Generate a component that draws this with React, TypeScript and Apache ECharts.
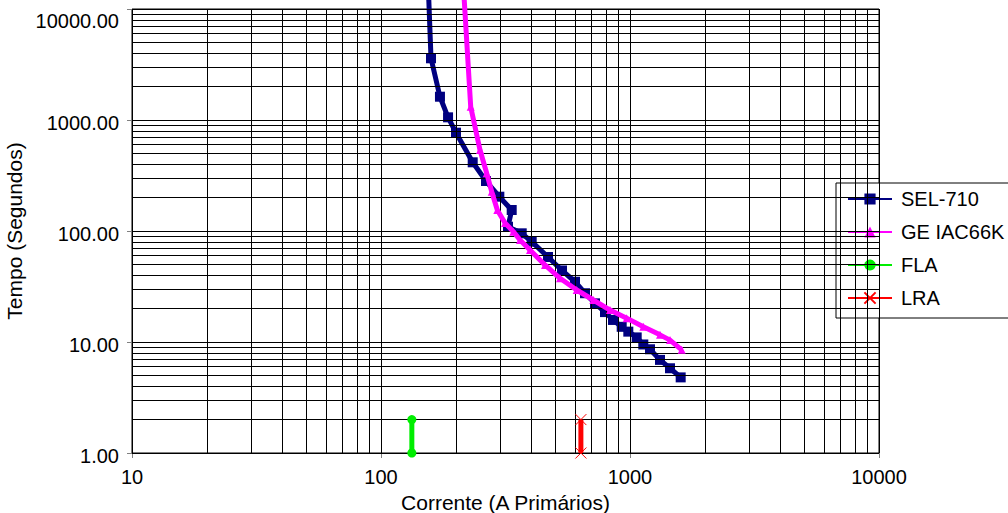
import React, { useEffect, useRef } from "react";
import * as echarts from "echarts";

const selX = [154.5, 158.8, 172.5, 185.9, 200.1, 233.5, 264.0, 298.7, 334.9, 323.6, 367.4, 402.9, 468.5, 533.3, 601.4, 659.7, 723.4, 793.5, 854.4, 926.1, 984.5, 1063.9, 1130.9, 1203.1, 1319.5, 1447.4, 1597.9];
const selY = [18250, 3596, 1621, 1057, 768.6, 415.8, 282.1, 203.7, 154.6, 109.3, 95.3, 80.1, 58.3, 44.1, 34.9, 27.5, 22.3, 18.6, 15.8, 13.7, 12.4, 11.0, 9.5, 8.6, 6.9, 5.8, 4.8];

const geX = [213.5, 229.2, 249.8, 265.8, 278.4, 293.2, 314.8, 340.0, 361.6, 396.7, 455.6, 523.6, 610.8, 712.2, 831.2, 969.9, 1130.9, 1319.5, 1447.4, 1612.7];
const geY = [18250, 1318, 536.6, 331.0, 226.0, 154.6, 118.1, 98.6, 82.9, 67.4, 49.4, 37.5, 29.4, 23.9, 19.4, 16.4, 13.7, 11.6, 10.4, 8.5];

const flaX = [133, 133];
const flaY = [1, 2];
const lraX = [635, 635];
const lraY = [1, 2];

const xGridValues: number[] = [];
for (const d of [10, 100, 1000]) for (let k = 1; k <= 9; k++) xGridValues.push(k * d);
xGridValues.push(10000);
const yGridValues: number[] = [];
for (const d of [1, 10, 100, 1000]) for (let k = 1; k <= 9; k++) yGridValues.push(k * d);
yGridValues.push(10000);

const FONT = "'Liberation Sans', Arial, sans-serif";

function zip(xs: number[], ys: number[]) {
  return xs.map((x, i) => [x, ys[i]]);
}

export default function App() {
  const ref = useRef<HTMLDivElement>(null);
  useEffect(() => {
    if (!ref.current) return;
    const chart = echarts.init(ref.current, undefined, { renderer: "svg" });
    const gridLine = { color: "#000", width: 1, type: "solid" as const };
    chart.setOption({
      animation: false,
      backgroundColor: "#fff",
      textStyle: { fontFamily: FONT },
      grid: {
        left: 132, right: 129, top: 9, bottom: 60,
        containLabel: false, outerBoundsMode: "none",
        show: true, borderColor: "#000", borderWidth: 1, backgroundColor: "transparent",
      },
      xAxis: {
        type: "log",
        logBase: 10,
        min: 10,
        max: 10000,
        name: "Corrente (A Primários)",
        nameLocation: "middle",
        nameGap: 33,
        nameTextStyle: { fontSize: 21, color: "#000", fontFamily: FONT },
        axisLine: { show: true, lineStyle: { color: "#808080", width: 1 } },
        axisTick: { show: true, length: 5, lineStyle: { color: "#808080" } },
        axisLabel: { fontSize: 20, color: "#000", margin: 14, fontFamily: FONT, formatter: (v: number) => String(Math.round(v)) },
        splitLine: { show: false },
      },
      yAxis: {
        type: "log",
        logBase: 10,
        min: 1,
        max: 10000,
        name: "Tempo (Segundos)",
        nameLocation: "middle",
        nameGap: 97,
        nameRotate: 90,
        nameTextStyle: { fontSize: 21, color: "#000", fontFamily: FONT },
        axisLine: { show: true, lineStyle: { color: "#808080", width: 1 } },
        axisTick: { show: true, length: 5, lineStyle: { color: "#808080" } },
        axisLabel: {
          fontSize: 20,
          color: "#000",
          margin: 13,
          fontFamily: FONT,
          formatter: (v: number) => (v >= 9999 ? "{t|" + v.toFixed(2) + "}" : "{n|" + v.toFixed(2) + "}"),
          rich: {
            t: { fontSize: 20, fontFamily: FONT, color: "#000", padding: [23, 0, 0, 0] },
            n: { fontSize: 20, fontFamily: FONT, color: "#000", padding: [6, 0, 0, 0] },
          },
        },
        splitLine: { show: false },
      },
      legend: {
        orient: "vertical",
        left: 836,
        top: 183,
        data: ["SEL-710", "GE IAC66K", "FLA", "LRA"],
        backgroundColor: "#fff",
        borderColor: "#000",
        borderWidth: 1,
        padding: [6, 80, 10, 11],
        itemWidth: 44,
        itemHeight: 14,
        itemGap: 13,
        textStyle: { fontSize: 20, color: "#000", fontFamily: FONT, lineHeight: 20, padding: [0, 0, 0, 4] },
      },
      series: [
        {
          name: "grid",
          type: "scatter",
          data: [[10, 1]],
          symbolSize: 0,
          silent: true,
          z: 1,
          markLine: {
            silent: true,
            symbol: ["none", "none"],
            label: { show: false },
            lineStyle: gridLine,
            emphasis: { disabled: true },
            data: [
              ...xGridValues.map((v) => ({ xAxis: v })),
              ...yGridValues.map((v) => ({ yAxis: v })),
            ],
          },
        },
        {
          name: "SEL-710",
          type: "line",
          data: zip(selX, selY),
          clip: false,
          symbol: "rect",
          symbolSize: 10,
          lineStyle: { color: "#000080", width: 5 },
          itemStyle: { color: "#000080" },
          z: 4,
        },
        {
          name: "GE IAC66K",
          type: "line",
          data: zip(geX, geY),
          clip: false,
          symbol: "triangle",
          symbolSize: 8,
          lineStyle: { color: "#FF00FF", width: 5 },
          itemStyle: { color: "#FF00FF" },
          z: 5,
        },
        {
          name: "FLA",
          type: "line",
          data: zip(flaX, flaY),
          clip: false,
          symbol: "circle",
          symbolSize: 9,
          lineStyle: { color: "#00EE00", width: 5 },
          itemStyle: { color: "#00EE00" },
          z: 5,
        },
        {
          name: "LRA",
          type: "line",
          data: zip(lraX, lraY),
          clip: false,
          symbol: "path://M0,0L10,10M10,0L0,10",
          symbolSize: 11,
          lineStyle: { color: "#FF0000", width: 5 },
          itemStyle: { color: "#FF0000", borderColor: "#FF0000", borderWidth: 1 },
          z: 5,
        },
      ],
    });
    return () => chart.dispose();
  }, []);
  return <div ref={ref} style={{ position: "fixed", left: 0, top: 0, width: 1008, height: 513, background: "#fff" }} />;
}
